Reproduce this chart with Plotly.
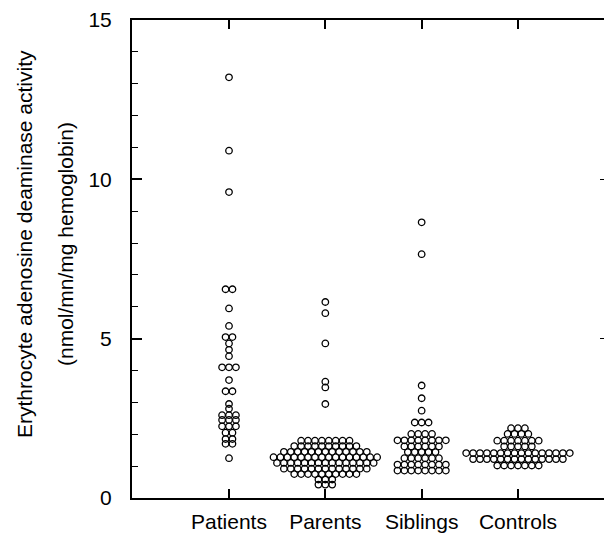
import plotly.graph_objects as go

groups = ["Patients", "Parents", "Siblings", "Controls"]

# (value, count) rows
patients_vals = [13.2, 10.9, 9.6, 6.55, 5.95, 5.4, 5.05, 4.85, 4.65, 4.45, 4.1, 3.7, 3.35,
                 2.95, 2.8, 2.6, 2.45, 2.25, 2.05, 1.85, 1.7, 1.25]
patients_cnt = [1, 1, 1, 2, 1, 1, 2, 1, 1, 1, 3, 1, 2,
                1, 1, 3, 3, 3, 2, 2, 2, 1]

parents_vals = [6.15, 5.8, 4.85, 3.65, 3.47, 2.95, 1.80, 1.63, 1.45, 1.28, 1.10, 0.92, 0.75, 0.58, 0.42]
parents_cnt = [1, 1, 1, 1, 1, 1, 8, 10, 13, 16, 15, 13, 10, 3, 3]

siblings_vals = [8.65, 7.65, 3.53, 3.13, 2.74, 2.37, 2.01, 1.81, 1.62, 1.44, 1.25, 1.05, 0.86]
siblings_cnt = [1, 1, 1, 1, 1, 3, 4, 8, 6, 5, 6, 8, 8]

controls_vals = [2.19, 2.01, 1.80, 1.62, 1.41, 1.22, 1.02]
controls_cnt = [3, 4, 7, 5, 16, 14, 7]

data = [(patients_vals, patients_cnt), (parents_vals, parents_cnt),
        (siblings_vals, siblings_cnt), (controls_vals, controls_cnt)]

DX = 0.0717  # horizontal spacing between neighbouring dots (category units)
FONT = "Liberation Sans, Arial, Helvetica, sans-serif"

fig = go.Figure()
for gi, (vals, cnts) in enumerate(data):
    xs, ys = [], []
    for v, n in zip(vals, cnts):
        for j in range(n):
            xs.append(gi + (j - (n - 1) / 2) * DX)
            ys.append(v)
    fig.add_trace(go.Scatter(
        x=xs, y=ys, mode="markers", name=groups[gi], showlegend=False,
        marker=dict(symbol="circle-open", size=6.5, color="black", line=dict(width=1.3, color="black")),
        hoverinfo="y"))

fig.add_trace(go.Scatter(x=[], y=[], yaxis="y2", showlegend=False))

fig.update_layout(
    width=604, height=533,
    margin=dict(l=132, r=0, t=20, b=31),
    plot_bgcolor="white", paper_bgcolor="white",
    font=dict(family=FONT, size=21, color="black"),
    xaxis=dict(range=[-1.007, 3.893], tickvals=[0, 1, 2, 3], ticktext=groups,
               ticks="inside", ticklen=9, tickwidth=1.5, tickcolor="black",
               showline=True, linewidth=2, linecolor="black", mirror="ticks",
               showgrid=False, zeroline=False, ticklabelstandoff=4,
               tickfont=dict(size=21)),
    yaxis=dict(range=[0, 15], tickvals=[0, 5, 10, 15],
               ticks="inside", ticklen=10, tickwidth=1.5, tickcolor="black",
               minor=dict(dtick=1, ticks="inside", ticklen=6, tickwidth=1.2, tickcolor="black", showgrid=False),
               showline=True, linewidth=2, linecolor="black",
               showgrid=False, zeroline=False, ticklabelstandoff=14,
               tickfont=dict(size=21)),
    yaxis2=dict(range=[0, 15], overlaying="y", side="right", tickvals=[5, 10],
                ticks="inside", ticklen=4, tickwidth=1.2, tickcolor="black",
                showline=False, showgrid=False, zeroline=False, showticklabels=False),
    annotations=[
        dict(text="Erythrocyte adenosine deaminase activity", xref="paper", yref="paper",
             x=0, y=0.5, xanchor="center", yanchor="middle", xshift=-108, yshift=15,
             textangle=-90, showarrow=False, font=dict(size=21)),
        dict(text="(nmol/mn/mg hemoglobin)", xref="paper", yref="paper",
             x=0, y=0.5, xanchor="center", yanchor="middle", xshift=-67, yshift=15,
             textangle=-90, showarrow=False, font=dict(size=21)),
    ],
)

fig.write_html("out.html", config={"displayModeBar": False},
               post_script="document.body.style.margin='0';document.body.style.overflow='hidden';")
